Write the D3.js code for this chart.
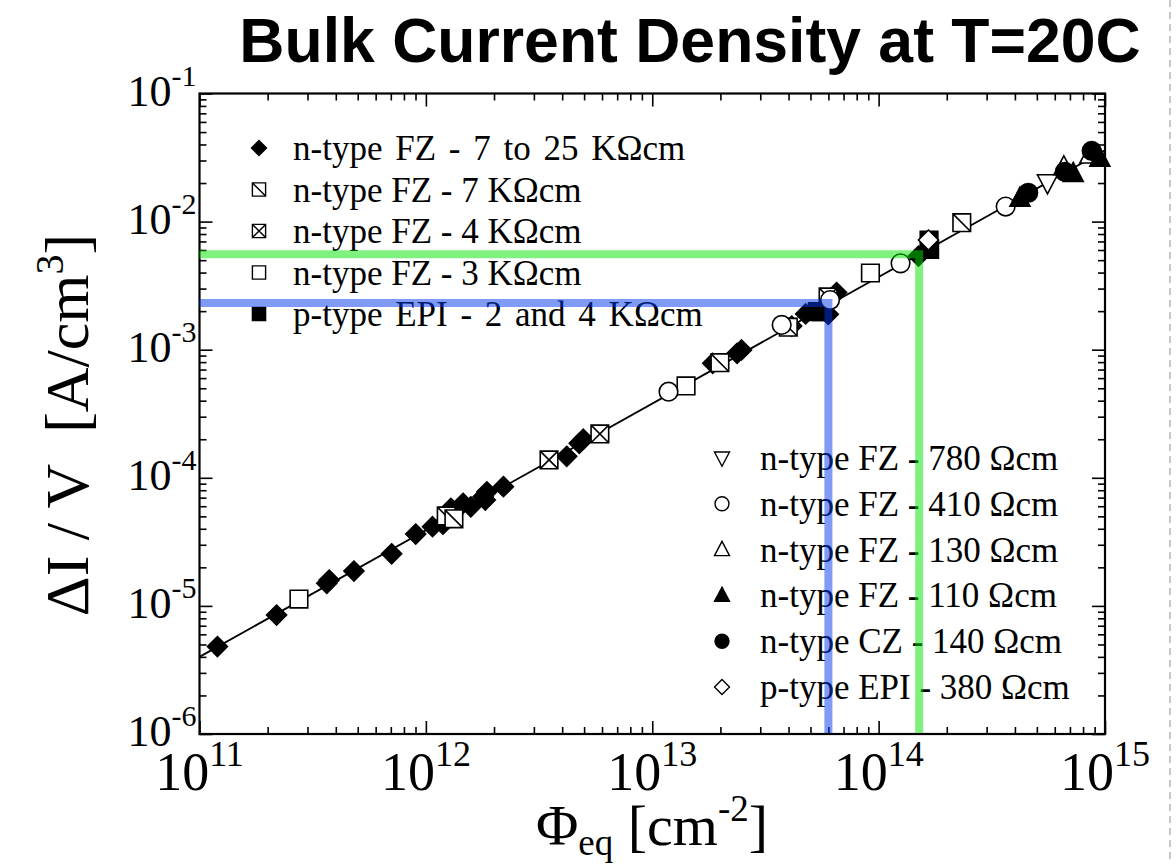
<!DOCTYPE html>
<html>
<head>
<meta charset="utf-8">
<script src="https://cdn.jsdelivr.net/npm/d3@7"></script>
<style>
  body { margin: 0; background: #fff; }
  text { fill: #000; }
</style>
</head>
<body>
<div id="chart"></div>
<script>
// axis decades (exponents)
var xDecades = [11, 12, 13, 14, 15];
var yDecades = [-6, -5, -4, -3, -2, -1];

// straight fit line end points
var fitX = [1e11, 1e15];
var fitY = [4.0e-6, 3.6e-2];

// highlighted guides: [fluence, current density]
var blueGuide = [6.0e13, 2.32e-3];
var greenGuide = [1.51e14, 5.55e-3];

// n-type FZ - 7 to 25 KOhm cm (filled diamonds)
var fz725X = [1.20e11, 2.19e11, 3.65e11, 3.74e11, 4.81e11, 7.06e11, 9.02e11, 1.07e12, 1.19e12, 1.29e12,
              1.46e12, 1.58e12, 1.79e12, 1.86e12, 1.83e12, 2.20e12, 4.19e12, 4.76e12, 4.96e12, 1.85e13,
              2.37e13, 2.48e13, 4.13e13, 4.76e13, 5.99e13, 6.52e13, 1.50e14];
var fz725Y = [4.81e-6, 8.49e-6, 1.50e-5, 1.59e-5, 1.87e-5, 2.55e-5, 3.64e-5, 4.15e-5, 4.34e-5, 5.78e-5,
              6.32e-5, 5.94e-5, 7.11e-5, 7.78e-5, 6.71e-5, 8.53e-5, 1.47e-4, 1.86e-4, 2.00e-4, 7.83e-4,
              9.37e-4, 9.95e-4, 1.53e-3, 1.90e-3, 1.89e-3, 2.79e-3, 5.38e-3];

// n-type FZ - 7 KOhm cm (square with one diagonal)
var fz7X = [1.23e12, 1.33e12, 1.99e13, 3.99e13, 2.33e14];
var fz7Y = [5.04e-5, 4.78e-5, 7.92e-4, 1.50e-3, 9.80e-3];

// n-type FZ - 4 KOhm cm (crossed square)
var fz4X = [3.50e12, 5.87e12, 5.98e13];
var fz4Y = [1.38e-4, 2.20e-4, 2.58e-3];

// n-type FZ - 3 KOhm cm (open square)
var fz3X = [2.75e11, 1.41e13, 9.20e13];
var fz3Y = [1.13e-5, 5.21e-4, 3.97e-3];

// p-type EPI - 2 and 4 KOhm cm (filled square)
var epi24X = [5.36e13, 5.60e13, 1.67e14, 1.68e14];
var epi24Y = [1.98e-3, 1.98e-3, 7.18e-3, 6.06e-3];

// n-type FZ - 780 Ohm cm (open down triangle)
var fz780X = [5.57e14];
var fz780Y = [2.01e-2];

// n-type FZ - 410 Ohm cm (open circle)
var fz410X = [1.18e13, 3.73e13, 6.10e13, 1.25e14, 3.64e14];
var fz410Y = [4.70e-4, 1.56e-3, 2.44e-3, 4.72e-3, 1.31e-2];

// n-type FZ - 130 Ohm cm (open up triangle)
var fz130X = [6.58e14, 8.57e14];
var fz130Y = [2.68e-2, 3.31e-2];

// n-type FZ - 110 Ohm cm (filled up triangle)
var fz110X = [4.21e14, 7.24e14, 9.49e14];
var fz110Y = [1.52e-2, 2.38e-2, 3.12e-2];

// n-type CZ - 140 Ohm cm (filled circle)
var cz140X = [4.58e14, 6.65e14, 8.73e14];
var cz140Y = [1.68e-2, 2.45e-2, 3.57e-2];

// p-type EPI - 380 Ohm cm (open diamond)
var epi380X = [1.66e14];
var epi380Y = [7.18e-3];

var legendLeft = ["n-type FZ - 7 to 25 K\u03A9cm", "n-type FZ - 7 K\u03A9cm", "n-type FZ - 4 K\u03A9cm",
                  "n-type FZ - 3 K\u03A9cm", "p-type EPI - 2 and 4 K\u03A9cm"];
var legendRight = ["n-type FZ - 780 \u03A9cm", "n-type FZ - 410 \u03A9cm", "n-type FZ - 130 \u03A9cm",
                   "n-type FZ - 110 \u03A9cm", "n-type CZ - 140 \u03A9cm", "p-type EPI - 380 \u03A9cm"];

var series = [
  {name: legendLeft[0], shape: "diamond", fill: "#000", xs: fz725X, ys: fz725Y, wide: true},
  {name: legendLeft[1], shape: "squareD", fill: "#fff", xs: fz7X, ys: fz7Y},
  {name: legendLeft[2], shape: "squareX", fill: "#fff", xs: fz4X, ys: fz4Y},
  {name: legendLeft[3], shape: "square", fill: "#fff", xs: fz3X, ys: fz3Y},
  {name: legendLeft[4], shape: "square", fill: "#000", xs: epi24X, ys: epi24Y, wide: true},
  {name: legendRight[0], shape: "triDown", fill: "#fff", xs: fz780X, ys: fz780Y},
  {name: legendRight[1], shape: "circle", fill: "#fff", xs: fz410X, ys: fz410Y},
  {name: legendRight[2], shape: "triUp", fill: "#fff", xs: fz130X, ys: fz130Y},
  {name: legendRight[3], shape: "triUp", fill: "#000", xs: fz110X, ys: fz110Y},
  {name: legendRight[4], shape: "circle", fill: "#000", xs: cz140X, ys: cz140Y},
  {name: legendRight[5], shape: "diamond", fill: "#fff", xs: epi380X, ys: epi380Y}
];

var width = 1176, height = 864;
var plot = {left: 199.5, right: 1105, top: 93.5, bottom: 734};
var serif = "'Liberation Serif', 'Times New Roman', serif";

var svg = d3.select("#chart").append("svg")
    .attr("width", width)
    .attr("height", height);

var x = d3.scaleLog().domain([1e11, 1e15]).range([plot.left, plot.right]);
var y = d3.scaleLog().domain([1e-6, 1e-1]).range([plot.bottom, plot.top]);

function isMajor(d) {
  var l = Math.log10(d);
  return Math.abs(l - Math.round(l)) < 1e-6;
}

// marker shapes, r = half size
function shapePath(shape, r) {
  switch (shape) {
    case "diamond":
      return "M0," + (-r) + "L" + r + ",0L0," + r + "L" + (-r) + ",0Z";
    case "square":
      return "M" + (-r) + "," + (-r) + "H" + r + "V" + r + "H" + (-r) + "Z";
    case "squareD":
      return shapePath("square", r) + "M" + (-r) + "," + (-r) + "L" + r + "," + r;
    case "squareX":
      return shapePath("squareD", r) + "M" + r + "," + (-r) + "L" + (-r) + "," + r;
    case "circle":
      return "M" + r + ",0A" + r + "," + r + " 0 1 1 " + (-r) + ",0A" + r + "," + r + " 0 1 1 " + r + ",0Z";
    case "triUp":
      return "M0," + (-r * 1.1) + "L" + r + "," + (r * 0.8) + "L" + (-r) + "," + (r * 0.8) + "Z";
    case "triDown":
      return "M0," + (r * 1.1) + "L" + r + "," + (-r * 0.8) + "L" + (-r) + "," + (-r * 0.8) + "Z";
  }
}

function markerSize(shape, big) {
  var s = {diamond: 10, square: 8.8, squareD: 8.8, squareX: 8.8, circle: 9.3, triUp: 10, triDown: 10}[shape];
  return big ? s : s * 0.75;
}

// page edge marker seen in the reference
svg.append("line")
    .attr("x1", 1170).attr("x2", 1170).attr("y1", 0).attr("y2", height)
    .attr("stroke", "#c8c8c8").attr("stroke-width", 2).attr("stroke-dasharray", "7,5");

// ticks on all four sides, pointing inward
var xTicks = x.ticks(), yTicks = y.ticks();
var xMajor = xTicks.filter(isMajor), xMinor = xTicks.filter(function(d) { return !isMajor(d); });
var yMajor = yTicks.filter(isMajor), yMinor = yTicks.filter(function(d) { return !isMajor(d); });

function tickAxis(axis, vals, len, tx, ty) {
  var g = svg.append("g")
      .attr("transform", "translate(" + tx + "," + ty + ")")
      .call(axis.tickValues(vals).tickSize(-len).tickFormat(""));
  g.select(".domain").remove();
  g.selectAll("line").attr("stroke", "#000").attr("stroke-width", 1.6);
}
tickAxis(d3.axisBottom(x), xMajor, 13, 0, plot.bottom);
tickAxis(d3.axisBottom(x), xMinor, 7, 0, plot.bottom);
tickAxis(d3.axisTop(x), xMajor, 13, 0, plot.top);
tickAxis(d3.axisTop(x), xMinor, 7, 0, plot.top);
tickAxis(d3.axisLeft(y), yMajor, 13, plot.left, 0);
tickAxis(d3.axisLeft(y), yMinor, 7, plot.left, 0);
tickAxis(d3.axisRight(y), yMajor, 13, plot.right, 0);
tickAxis(d3.axisRight(y), yMinor, 7, plot.right, 0);

// frame
svg.append("rect")
    .attr("x", plot.left).attr("y", plot.top)
    .attr("width", plot.right - plot.left).attr("height", plot.bottom - plot.top)
    .attr("fill", "none").attr("stroke", "#000").attr("stroke-width", 2.2);

// tick labels
xDecades.forEach(function(e) {
  var t = svg.append("text")
      .attr("x", x(Math.pow(10, e))).attr("y", plot.bottom + 56)
      .attr("text-anchor", "middle")
      .attr("font-family", serif).attr("font-size", 54);
  t.append("tspan").text("10");
  t.append("tspan").attr("dy", -24).attr("font-size", 36).text(e);
});
yDecades.forEach(function(e) {
  var t = svg.append("text")
      .attr("x", plot.left - 3).attr("y", y(Math.pow(10, e)) + 12)
      .attr("text-anchor", "end")
      .attr("font-family", serif).attr("font-size", 44);
  t.append("tspan").text("10");
  t.append("tspan").attr("dy", -20).attr("font-size", 30).text(e);
});

// axis titles
var xt = svg.append("text")
    .attr("x", 652).attr("y", 845)
    .attr("text-anchor", "middle")
    .attr("font-family", serif).attr("font-size", 58);
xt.append("tspan").text("\u03A6");
xt.append("tspan").attr("dy", 10).attr("font-size", 37).text("eq");
xt.append("tspan").attr("dy", -10).text(" [cm");
xt.append("tspan").attr("dy", -24).attr("font-size", 37).text("-2");
xt.append("tspan").attr("dy", 24).text("]");

var yt = svg.append("text")
    .attr("transform", "translate(88,425) rotate(-90)")
    .attr("text-anchor", "middle")
    .attr("font-family", serif).attr("font-size", 62);
yt.append("tspan").text("\u0394I / V\u00A0\u00A0[A/cm");
yt.append("tspan").attr("dy", -25).attr("font-size", 40).text("3");
yt.append("tspan").attr("dy", 25).text("]");

// title
svg.append("text")
    .attr("x", 690).attr("y", 62)
    .attr("text-anchor", "middle")
    .attr("font-family", "'Liberation Sans', Arial, Helvetica, sans-serif")
    .attr("font-weight", "bold").attr("font-size", 62.5)
    .text("Bulk Current Density at T=20C");

// fit line
svg.append("path")
    .datum(d3.zip(fitX, fitY))
    .attr("fill", "none").attr("stroke", "#000").attr("stroke-width", 1.8)
    .attr("d", d3.line().x(function(d) { return x(d[0]); }).y(function(d) { return y(d[1]); }));

// data points
series.forEach(function(s) {
  svg.append("g").selectAll("path")
    .data(d3.zip(s.xs, s.ys))
    .enter().append("path")
    .attr("transform", function(d) { return "translate(" + x(d[0]) + "," + y(d[1]) + ")"; })
    .attr("d", shapePath(s.shape, markerSize(s.shape, true)))
    .attr("fill", s.fill)
    .attr("stroke", "#000").attr("stroke-width", 1.6);
});

// legends
function legend(items, mx, tx, y0, dy) {
  items.forEach(function(s, i) {
    var cy = y0 + i * dy;
    svg.append("path")
        .attr("transform", "translate(" + mx + "," + cy + ")")
        .attr("d", shapePath(s.shape, markerSize(s.shape, false)))
        .attr("fill", s.fill).attr("stroke", "#000").attr("stroke-width", 1.4);
    svg.append("text")
        .attr("x", tx).attr("y", cy + 12)
        .attr("font-family", serif).attr("font-size", 35)
        .attr("word-spacing", s.wide ? 4 : 0)
        .text(s.name);
  });
}
legend(series.slice(0, 5), 259, 293, 148, 41.5);
legend(series.slice(5), 722, 760, 458, 45.8);

// guide lines, semi-transparent on top
function guide(g, color) {
  svg.append("path")
      .attr("fill", "none")
      .attr("stroke", color).attr("stroke-opacity", 0.5).attr("stroke-width", 8)
      .attr("d", "M" + plot.left + "," + y(g[1]) + "H" + x(g[0]) + "V" + (plot.bottom - 1));
}
guide(blueGuide, "#0038ec");
guide(greenGuide, "#00e400");
</script>
</body>
</html>
